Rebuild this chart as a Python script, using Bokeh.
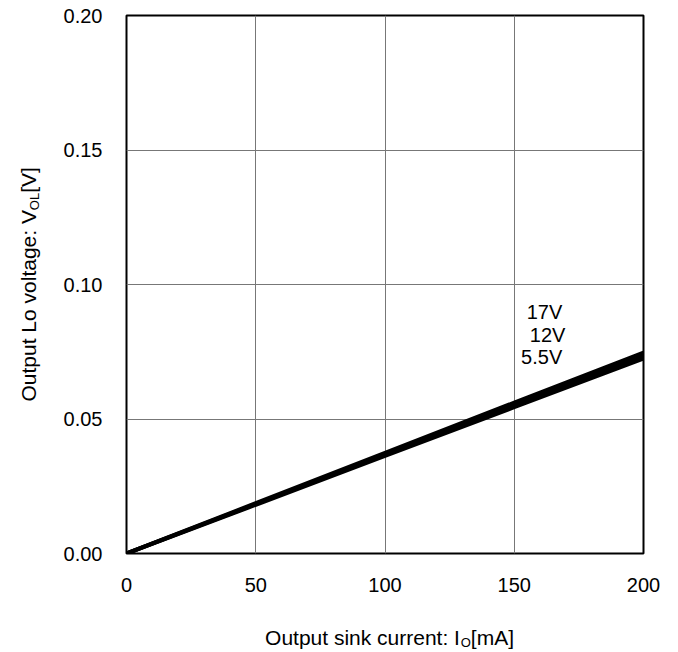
from bokeh.plotting import figure
from bokeh.models import Range1d, FixedTicker, NumeralTickFormatter, Label
from bokeh.layouts import row, column
from bokeh.embed import file_html
from bokeh.resources import INLINE
import math

# ---- data ----
current_ma = [0, 50, 100, 150, 200]
vol_17v = [0.0, 0.0187, 0.0374, 0.0561, 0.0747]
vol_12v = [0.0, 0.0184, 0.0368, 0.0552, 0.0736]
vol_5v5 = [0.0, 0.0181, 0.0363, 0.0544, 0.0725]
series_names = ["17V", "12V", "5.5V"]
x_ticks = [0, 50, 100, 150, 200]
y_ticks = [0.0, 0.05, 0.10, 0.15, 0.20]

FONT = "Liberation Sans"

# ---------------- main chart ----------------
p = figure(
    width=628, height=610,
    min_border_left=76, min_border_right=35,
    min_border_top=15, min_border_bottom=57,
    x_range=Range1d(0, 200), y_range=Range1d(0, 0.2),
    output_backend="svg", toolbar_location=None,
    background_fill_color="white", border_fill_color="white",
)

p.outline_line_color = "black"
p.outline_line_width = 2

for ax in (p.xaxis, p.yaxis):
    ax.axis_line_color = None
    ax.major_tick_line_color = None
    ax.minor_tick_line_color = None
    ax.major_tick_out = 0
    ax.major_tick_in = 0
    ax.major_label_text_font = FONT
    ax.major_label_text_font_size = "20px"
    ax.major_label_text_color = "black"
    ax.major_label_standoff = 24

p.xaxis.ticker = FixedTicker(ticks=x_ticks)
p.yaxis.ticker = FixedTicker(ticks=y_ticks)
p.yaxis.formatter = NumeralTickFormatter(format="0.00")

p.xgrid.ticker = FixedTicker(ticks=x_ticks)
p.ygrid.ticker = FixedTicker(ticks=y_ticks)
for g in (p.xgrid, p.ygrid):
    g.grid_line_color = "#777777"
    g.grid_line_width = 1

for ys in (vol_5v5, vol_12v, vol_17v):
    p.line(current_ma, ys, line_color="black", line_width=4)

# series labels
label_pos = [(161.7, 0.0896), (162.9, 0.0814), (160.6, 0.0732)]
for name, (lx, ly) in zip(series_names, label_pos):
    p.add_layout(Label(x=lx, y=ly, text=name, text_font=FONT,
                       text_font_size="20px", text_align="center",
                       text_baseline="middle", text_color="black"))

# ---------------- y-axis title panel ----------------
# its frame lines up with the main frame (page y 15..553); use page-y units
py = figure(width=50, height=610, min_border=0,
            x_range=Range1d(0, 50), y_range=Range1d(553, 15),
            x_axis_type=None, y_axis_type=None,
            output_backend="svg", toolbar_location=None,
            background_fill_color="white", border_fill_color="white")
py.outline_line_color = None
py.grid.visible = False

rot = dict(angle=math.pi / 2, text_align="center", text_baseline="middle",
           text_color="black", text_font=FONT)
py.add_layout(Label(x=28, y=305.3, text="Output Lo voltage: V",
                    text_font_size="21px", **rot))
py.add_layout(Label(x=34, y=201.0, text="OL", text_font_size="13px", **rot))
py.add_layout(Label(x=28, y=179.5, text="[V]", text_font_size="21px", **rot))

# ---------------- x-axis title panel (pixel coordinates) ----------------
XW, XH = 678, 42
px = figure(width=XW, height=XH, min_border=0,
            x_range=Range1d(0, XW), y_range=Range1d(0, XH),
            x_axis_type=None, y_axis_type=None,
            output_backend="svg", toolbar_location=None,
            background_fill_color="white", border_fill_color="white")
px.outline_line_color = None
px.grid.visible = False

hor = dict(text_align="center", text_baseline="middle", text_color="black",
           text_font=FONT)
px.add_layout(Label(x=362.0, y=15, text="Output sink current: I",
                    text_font_size="21px", **hor))
px.add_layout(Label(x=465.2, y=10.5, text="O", text_font_size="13px", **hor))
px.add_layout(Label(x=491.9, y=15, text="[mA]", text_font_size="21px", **hor))

layout = column(row(py, p, spacing=0), px, spacing=0)

open("out.html", "w").write(file_html(layout, INLINE))
